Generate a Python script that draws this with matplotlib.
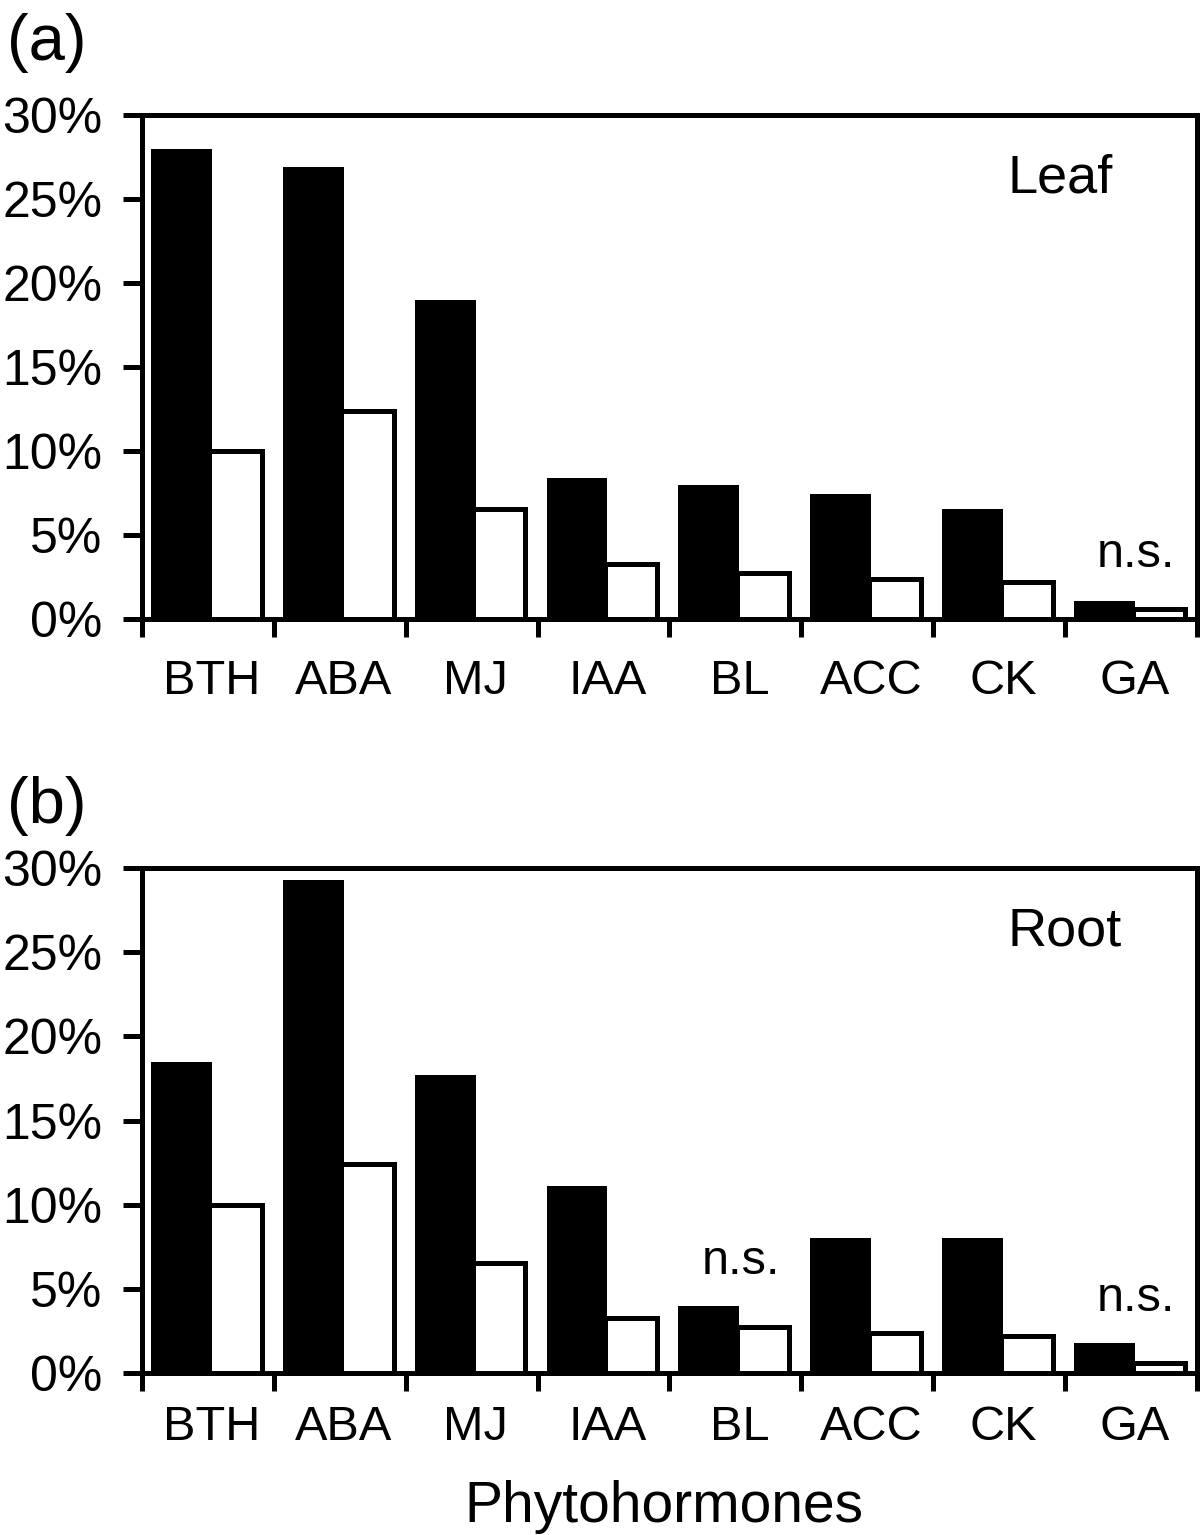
import numpy as np
import matplotlib
matplotlib.use("Agg")
import matplotlib.pyplot as plt

plt.rcParams['font.family'] = ['Liberation Sans', 'DejaVu Sans']

hormones = ["BTH", "ABA", "MJ", "IAA", "BL", "ACC", "CK", "GA"]
leaf_treated = [28.0, 26.9, 19.0, 8.4, 8.0, 7.45, 6.55, 1.05]
leaf_control = [10.0, 12.4, 6.55, 3.3, 2.75, 2.37, 2.2, 0.57]
root_treated = [18.5, 29.3, 17.7, 11.1, 3.96, 8.0, 8.0, 1.8]
root_control = [10.0, 12.4, 6.55, 3.3, 2.75, 2.37, 2.2, 0.57]
yticks = [0, 5, 10, 15, 20, 25, 30]
# (category index, y of label baseline) for the "n.s." marks
leaf_ns = [(7, 3.1)]
root_ns = [(4, 5.9), (7, 3.7)]

LW = 3.6

fig = plt.figure(figsize=(12, 15.35), dpi=100)
ax_a = fig.add_axes([0.1183, 0.5967, 0.8792, 0.3284])
ax_b = fig.add_axes([0.1183, 0.1055, 0.8792, 0.3290])


def draw_panel(ax, treated, control, ns, tag, xpad):
    idx = np.arange(len(hormones))
    ax.bar(idx + 0.511, control, width=0.397, align="edge",
           color="white", edgecolor="black", linewidth=LW, zorder=2)
    ax.bar(idx + 0.068, treated, width=0.462, align="edge",
           color="black", edgecolor="none", zorder=3)
    ax.set_xlim(0, len(hormones))
    ax.set_ylim(0, 30)
    for s in ax.spines.values():
        s.set_linewidth(LW)
    ax.set_yticks(yticks)
    ax.set_yticklabels([f"{v}%" for v in yticks])
    ax.set_xticks(np.arange(len(hormones) + 1))
    ax.set_xticklabels([])
    ax.set_xticks(idx + 0.53, minor=True)
    ax.set_xticklabels(hormones, minor=True)
    ax.tick_params(axis="y", direction="out", length=13.5, width=LW,
                   labelsize=36, pad=15, right=False)
    ax.tick_params(axis="x", which="major", direction="out", length=13,
                   width=LW, top=False)
    ax.tick_params(axis="x", which="minor", length=0, labelsize=35,
                   pad=xpad, top=False)
    for i, y in ns:
        ax.text(i + 0.54, y, "n.s.", ha="center", va="baseline", fontsize=35)
    ax.text(6.56, 25.4, tag, ha="left", va="baseline", fontsize=39)


draw_panel(ax_a, leaf_treated, leaf_control, leaf_ns, "Leaf", 29)
draw_panel(ax_b, root_treated, root_control, root_ns, "Root", 23)

fig.text(0.006, 1 - 60 / 1535, "(a)", fontsize=47, va="baseline", ha="left")
fig.text(0.006, 1 - 823 / 1535, "(b)", fontsize=47, va="baseline", ha="left")
fig.text(663.5 / 1200, 1 - 1522 / 1535, "Phytohormones", fontsize=41,
         ha="center", va="baseline")

fig.savefig("out.png", dpi=100)
